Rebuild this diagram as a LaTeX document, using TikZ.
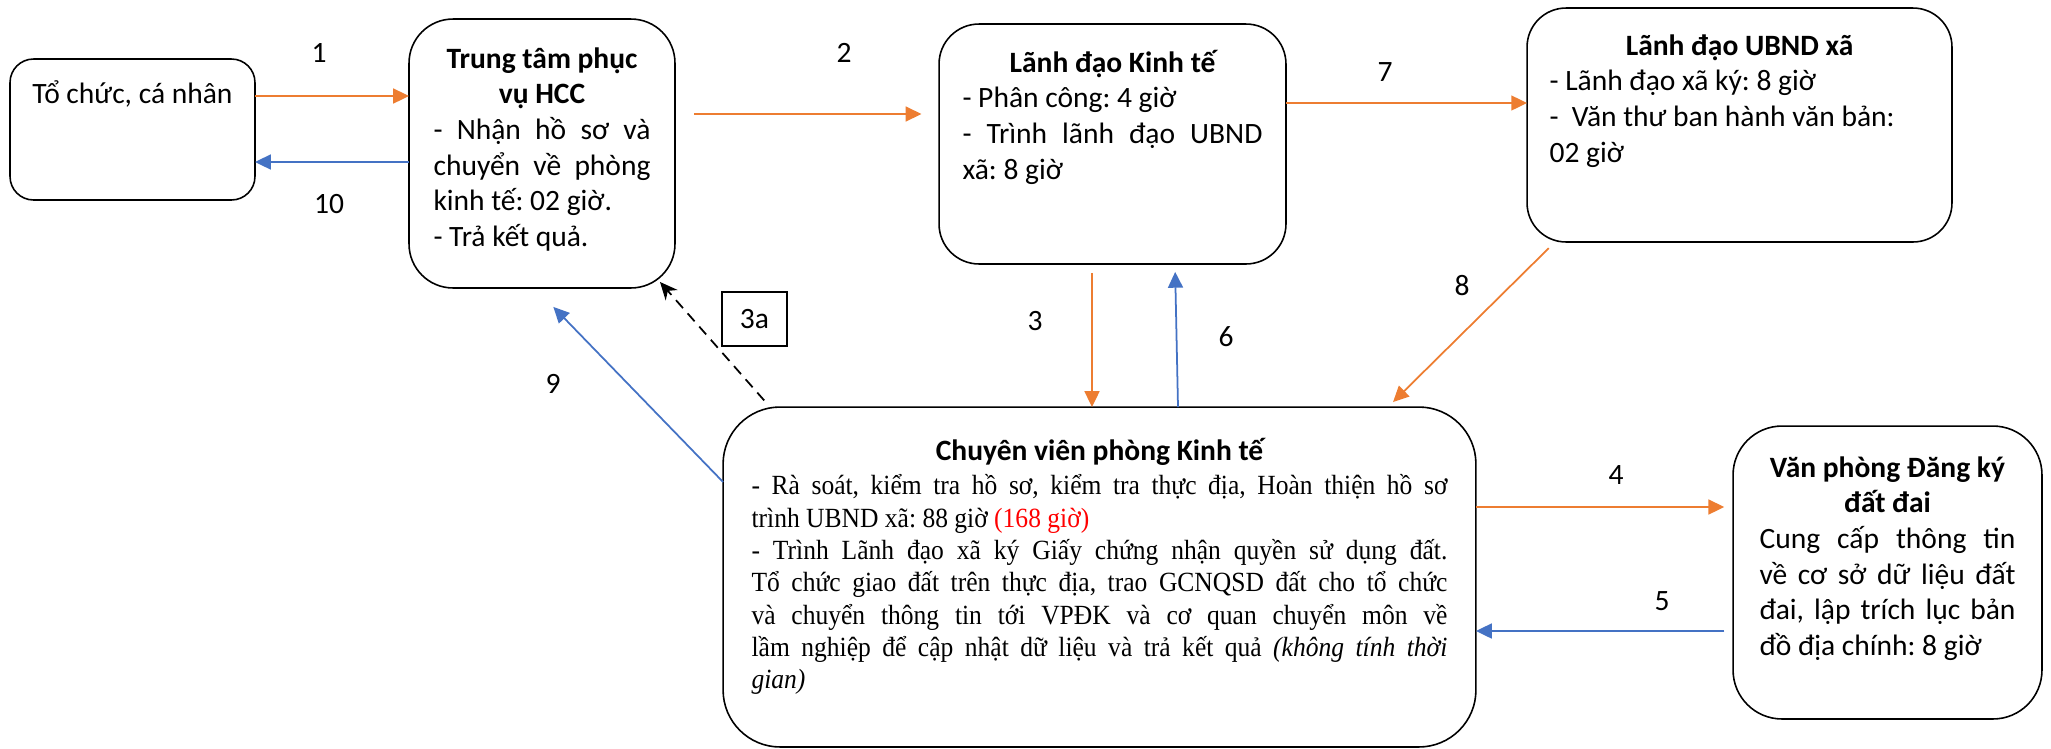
\documentclass[tikz,border=0pt]{standalone}
\usepackage{fontspec}
\setmainfont{Carlito}
\newfontfamily\timesfont[FakeStretch=0.92]{Liberation Serif}
\usepackage{tikz}
\usetikzlibrary{arrows.meta, calc}
\definecolor{arrorange}{HTML}{ED7D31}
\definecolor{arrblue}{HTML}{4472C4}
\hyphenpenalty=10000
\exhyphenpenalty=10000
\frenchspacing

\begin{document}
\begin{tikzpicture}[
    x=0.02cm, y=-0.02cm,
    box/.style={draw, line width=0.9pt, inner sep=0pt, outer sep=0pt},
    txt/.style={inner sep=0pt, anchor=base, align=justify, font=\fontsize{16.8}{20.3}\selectfont},
    num/.style={inner sep=0pt, font=\fontsize{16.8}{20.3}\selectfont},
    fwd/.style={draw=arrorange, line width=1pt, -{Triangle[length=9pt, width=8.5pt]}},
    back/.style={draw=arrblue, line width=1pt, -{Triangle[length=9pt, width=8.5pt]}},
    dashback/.style={draw=black, line width=1pt, dash pattern=on 6pt off 4pt, -{Stealth[length=10pt, width=9pt]}},
]
\useasboundingbox (0,0) rectangle (2051,748);

% Boxes
\node[box, minimum width=4.9cm, minimum height=2.82cm, rounded corners=0.47cm] (tochuc) at (132.5,129.5) {};
\node[box, minimum width=5.32cm, minimum height=5.38cm, rounded corners=0.88cm] (hcc) at (542,153.5) {};
\node[box, minimum width=6.94cm, minimum height=4.8cm, rounded corners=0.8cm] (ldkt) at (1112.5,144) {};
\node[box, minimum width=8.5cm, minimum height=4.68cm, rounded corners=0.78cm] (ldubnd) at (1739.5,125) {};
\node[box, minimum width=15.06cm, minimum height=6.8cm, rounded corners=1.14cm] (cvkt) at (1099.5,577) {};
\node[box, minimum width=6.18cm, minimum height=5.86cm, rounded corners=0.98cm] (vpdk) at (1887.5,572.5) {};

% Box texts
\node[txt, align=center] (tochuc-t) at (tochuc.north |- 0,103) {Tổ chức, cá nhân};
\node[txt, text width=4.34cm] (hcc-t) at (hcc.north |- 0,68)
  {{\centering\bfseries Trung tâm phục\\ vụ HCC\par}- Nhận hồ sơ và\linebreak chuyển về phòng\linebreak kinh tế: 02 giờ.\\ - Trả kết quả.};
\node[txt, text width=6cm] (ldkt-t) at (ldkt.north |- 0,72)
  {{\centering\bfseries Lãnh đạo Kinh tế\par}-~Phân công: 4 giờ\\ - Trình lãnh đạo UBND\linebreak xã: 8 giờ};
\node[txt, text width=7.6cm] (ldubnd-t) at (ldubnd.north |- 0,55)
  {{\centering\bfseries Lãnh đạo UBND xã\par}- Lãnh đạo xã ký: 8 giờ\\ -~~Văn thư ban hành văn bản:\\ 02 giờ};
\node[txt, text width=13.92cm] (cvkt-t) at (cvkt.north |- 0,460)
  {{\centering\bfseries Chuyên viên phòng Kinh tế\par}\vspace{1.5pt}
   {\timesfont\fontsize{15.8}{18.4}\selectfont
   - Rà soát, kiểm tra hồ sơ, kiểm tra thực địa, Hoàn thiện hồ sơ\linebreak trình UBND xã: 88 giờ \textcolor{red}{(168 giờ)}\par
   - Trình Lãnh đạo xã ký Giấy chứng nhận quyền sử dụng đất.\linebreak Tổ chức giao đất trên thực địa, trao GCNQSD đất cho tổ chức\linebreak và chuyển thông tin tới VPĐK và cơ quan chuyển môn về\linebreak lầm nghiệp để cập nhật dữ liệu và trả kết quả \textit{(không tính thời\linebreak gian)}\par}};
\node[txt, text width=5.12cm] (vpdk-t) at (vpdk.north |- 0,477)
  {{\centering\bfseries Văn phòng Đăng ký\\ đất đai\par}Cung cấp thông tin\linebreak về cơ sở dữ liệu đất\linebreak đai, lập trích lục bản\linebreak đồ địa chính: 8 giờ};

% Step numbers
\node[num] (n1) at (319,53) {1};
\node[num] (n10) at (329,204) {10};
\node[num] (n2) at (844,53) {2};
\node[num] (n7) at (1385,72) {7};
\node[num] (n3) at (1035,321) {3};
\node[num] (n6) at (1226,337) {6};
\node[num] (n9) at (553,384) {9};
\node[num] (n8) at (1462,286) {8};
\node[num] (n4) at (1616,475) {4};
\node[num] (n5) at (1662,601) {5};
\node[box, minimum width=1.3cm, minimum height=1.08cm, font=\fontsize{16.8}{20.3}\selectfont] (n3a) at (754.5,319) {3a};

% Arrows
\draw[fwd] (tochuc.east |- 0,96) -- (hcc.west |- 0,96);
\draw[back] (hcc.west |- 0,162) -- (tochuc.east |- 0,162);
\draw[fwd, shorten <=11pt, shorten >=10pt] (hcc.east |- 0,114) -- (ldkt.west |- 0,114);
\draw[fwd] (ldkt.east |- 0,103) -- (ldubnd.west |- 0,103);
\draw[fwd, shorten <=5pt] (ldkt.south -| 1092,0) -- (cvkt.north -| 1092,0);
\draw[back, shorten >=4.5pt] (cvkt.north -| 1178,0) -- (ldkt.south -| 1175,0);
\draw[fwd, shorten <=5pt, shorten >=4pt] (ldubnd.south -| 1555,0) -- (cvkt.north -| 1388,0);
\draw[back, shorten >=15pt] (cvkt.west |- 0,482) -- (hcc.south -| 535,0);
\draw[dashback, shorten <=5pt] (cvkt.north -| 770,0) -- ($(hcc.south)+(118,-6)$);
\draw[fwd, shorten >=5pt] (cvkt.east |- 0,507) -- (vpdk.west |- 0,507);
\draw[back, shorten <=5pt] (vpdk.west |- 0,631) -- (cvkt.east |- 0,631);

\end{tikzpicture}
\end{document}
